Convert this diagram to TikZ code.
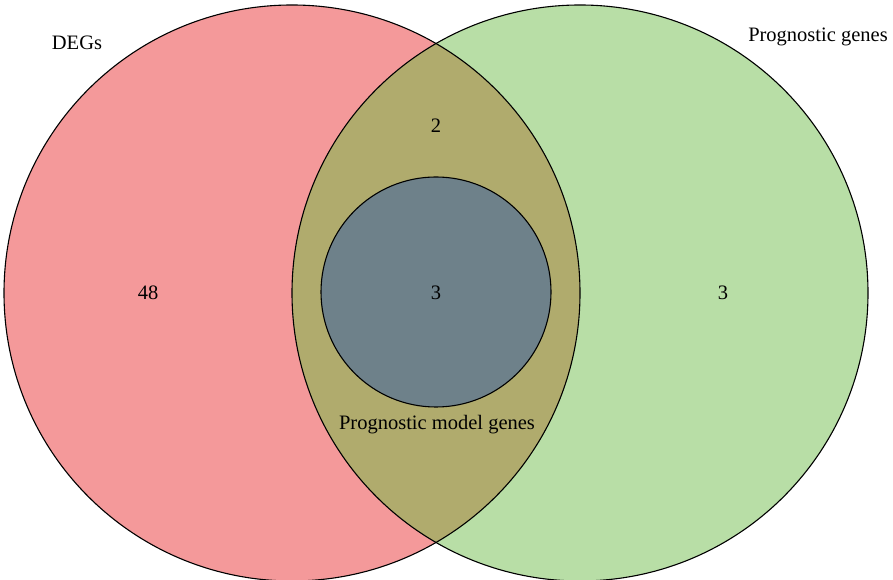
\documentclass[tikz,border=0pt]{standalone}
\usepackage{fontspec}
\setmainfont{Liberation Serif}
\definecolor{degred}{HTML}{F4999A}
\definecolor{proggreen}{HTML}{B8DEA6}
\definecolor{overlap}{HTML}{B0AB6D}
\definecolor{inner}{HTML}{6E818A}
\begin{document}
\begin{tikzpicture}[x=1pt,y=1pt,
  outline/.style={draw=black,line width=1.1pt},
  lbl/.style={font=\fontsize{20.5}{24}\selectfont,inner sep=0pt}]
\useasboundingbox (0,0) rectangle (893,580);
\begin{scope}
\clip (0,0) rectangle (893,580);
\coordinate (cl) at (292,287);
\coordinate (cr) at (580,287);
\coordinate (ci) at (436,288);
\fill[degred] (cl) circle (288);
\fill[proggreen] (cr) circle (288);
\begin{scope}
\clip (cl) circle (288);
\fill[overlap] (cr) circle (288);
\end{scope}
\draw[outline] (cl) circle (288);
\draw[outline] (cr) circle (288);
\draw[outline,fill=inner] (ci) circle (115);
\end{scope}
\node[lbl] (degs) at (77,537) {DEGs};
\node[lbl] (prog) at (818,543) {Prognostic genes};
\node[lbl] (n48) at (148,287) {48};
\node[lbl] (n3a) at (436,287) {3};
\node[lbl] (n3b) at (723,287) {3};
\node[lbl] (n2) at (436,454) {2};
\node[lbl] (pmg) at (437,155) {Prognostic model genes};
\end{tikzpicture}
\end{document}
